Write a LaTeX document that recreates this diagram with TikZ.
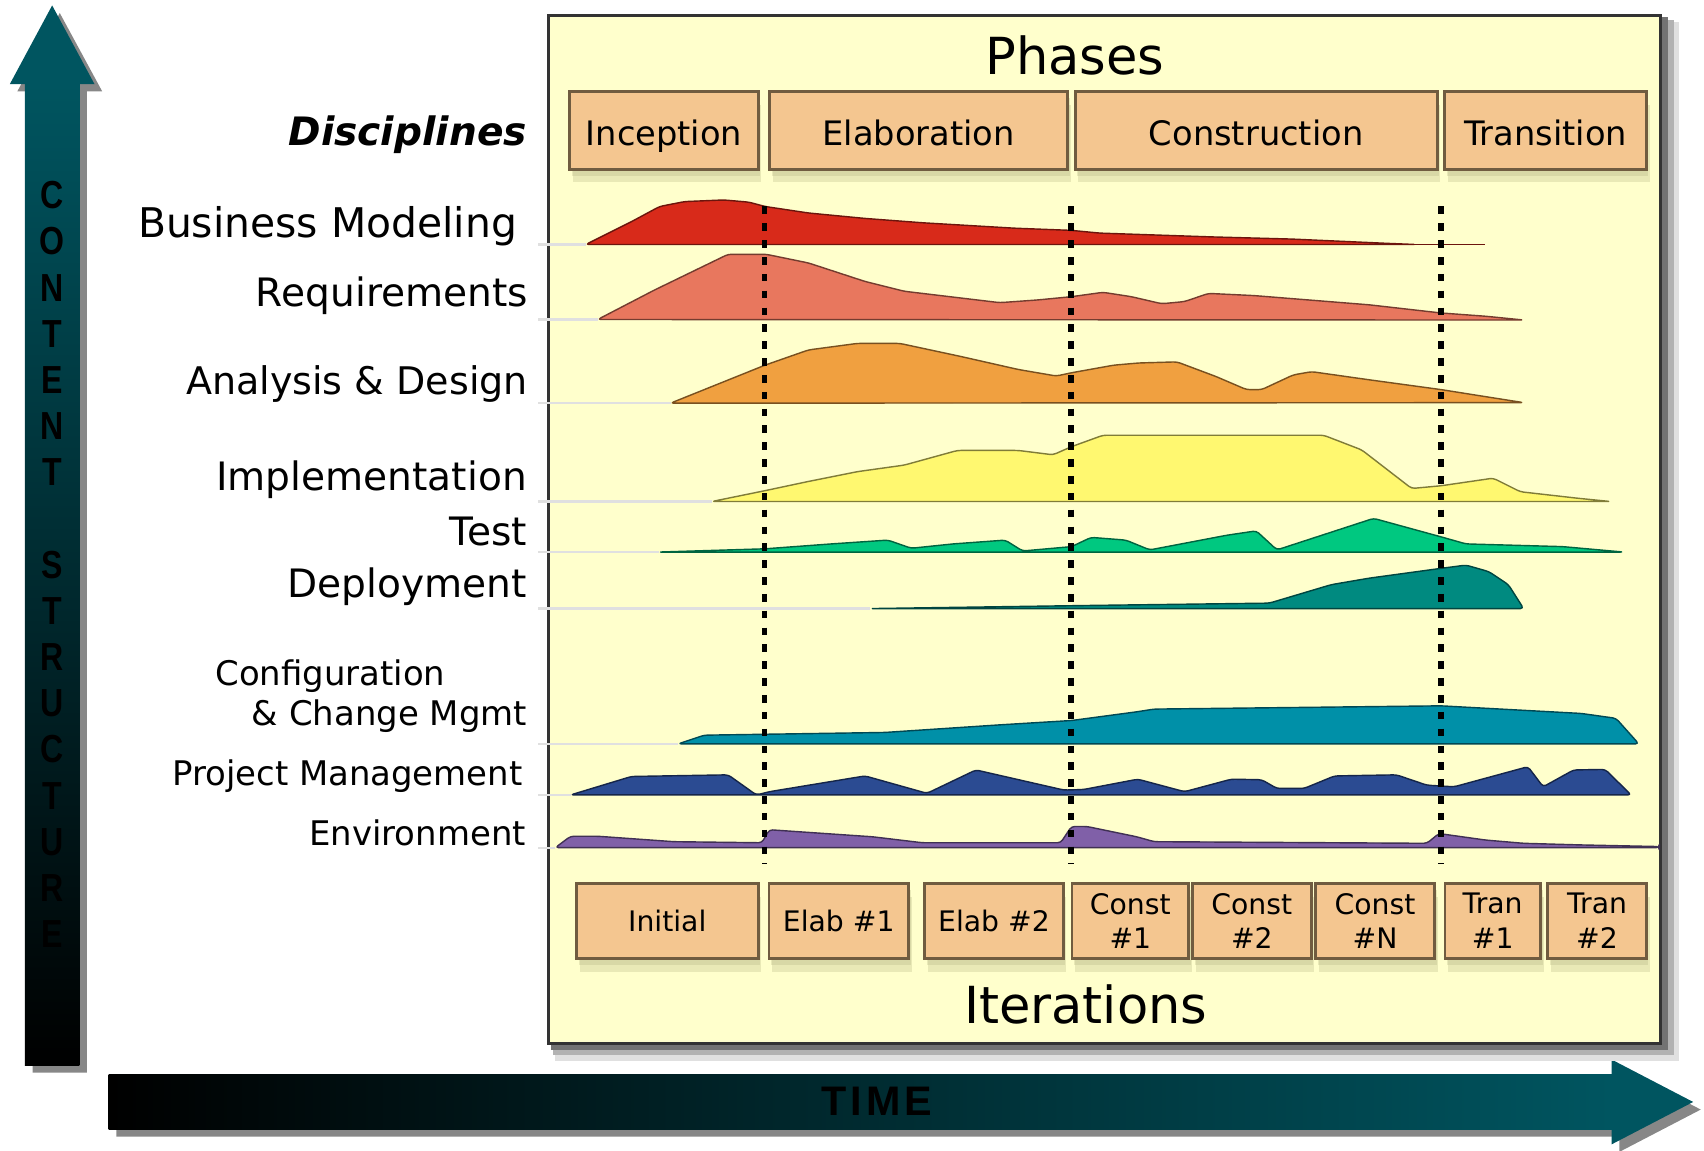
\documentclass[tikz,border=0pt]{standalone}
\usepackage{fontspec}
\setmainfont{DejaVu Sans}[ItalicFont={DejaVu Sans Oblique}, BoldFont={DejaVu Sans Bold}, BoldItalicFont={DejaVu Sans Bold Oblique}]
\newfontfamily\arrowfont{Liberation Sans}[LetterSpace=10]
\newfontfamily\stemfont{Liberation Sans}
\usepackage{tikz}
\usetikzlibrary{calc, shadows}

\definecolor{paper}{HTML}{FFFFCC}
\definecolor{peach}{HTML}{F4C690}
\definecolor{peachline}{HTML}{705C40}
\definecolor{shadowc}{HTML}{A8A878}
\definecolor{teal1}{HTML}{005560}
\definecolor{bmred}{HTML}{D82A1A}
\definecolor{reqsalmon}{HTML}{E8775E}
\definecolor{adorange}{HTML}{F0A040}
\definecolor{implyellow}{HTML}{FFF870}
\definecolor{testgreen}{HTML}{00C880}
\definecolor{depteal}{HTML}{008A80}
\definecolor{cmcyan}{HTML}{0090A8}
\definecolor{pmnavy}{HTML}{2B4B92}
\definecolor{envpurple}{HTML}{8060A8}

\tikzset{
    phase/.style={rectangle, draw=peachline, line width=2.5, fill=peach, inner sep=0pt,
        minimum height=71.5pt, text height=29pt, text depth=2pt, font=\fontsize{31}{37}\selectfont,
        general shadow={fill=shadowc, opacity=0.25, shadow xshift=2pt, shadow yshift=-6pt},
        general shadow={fill=shadowc, opacity=0.25, shadow xshift=3pt, shadow yshift=-12pt}},
    iter/.style={phase, minimum height=69pt, text height=, text depth=, align=center,
        font=\fontsize{26}{32}\selectfont},
    hump/.style={fill=#1, draw=#1!50!black, line width=1.3, rounded corners=3pt, line join=round},
    disc/.style={anchor=base east, inner sep=0pt, font=\fontsize{36}{43}\selectfont},
    discsmall/.style={disc, font=\fontsize{31.2}{38}\selectfont},
    vletter/.style={anchor=base, inner sep=0pt, font=\stemfont\bfseries\fontsize{36}{43}\selectfont},
    sepline/.style={line width=5, dash pattern=on 7pt off 8.5pt},
    faint/.style={draw=black!12, line width=2},
    arrowshadow/.style={fill=black!47},
}

\begin{document}
\begin{tikzpicture}[x=1pt, y=-1pt]
    \useasboundingbox (0,0) rectangle (1568,1059);

    % Content structure arrow (left)
    \fill[arrowshadow, shift={(7,7)}] (23,77) -- (23,980) -- (73,980) -- (73,77) -- (87,77) -- (48,5) -- (9,77) -- cycle;
    \shade[top color=teal1, middle color=teal1!60!black, bottom color=black] (23,77) rectangle (73,980);
    \fill[teal1] (9,77.5) -- (48,5) -- (87,77.5) -- cycle;
    \foreach \ch [count=\i from 0] in {C,O,N,T,E,N,T}
        \node[vletter] (cs\i) at (48,192+42.5*\i) {\scalebox{0.82}[1]{\ch}};
    \foreach \ch [count=\i from 8] in {S,T,R,U,C,T,U,R,E}
        \node[vletter] (cs\i) at (48,192+42.5*\i) {\scalebox{0.82}[1]{\ch}};

    % Time arrow (bottom)
    \fill[arrowshadow, shift={(7,7)}] (100,989) -- (1483,989) -- (1483,975) -- (1558,1014) -- (1483,1053) -- (1483,1039) -- (100,1039) -- cycle;
    \shade[left color=black, middle color=teal1!70!black, right color=teal1] (100,989) rectangle (1483.5,1039);
    \fill[teal1] (1483,975) -- (1558,1014) -- (1483,1053) -- cycle;
    \node[anchor=base, inner sep=0pt, font=\arrowfont\bfseries\fontsize{38}{46}\selectfont] (time) at (807,1026) {TIME};

    % Chart panel with its shadow
    \fill[black!12] (511,20) rectangle (1545,976);
    \fill[black!30] (509,18) rectangle (1540,971);
    \fill[black!55] (507,16) rectangle (1535,966);
    \draw[line width=3, draw=black!80, fill=paper] (505,14) rectangle (1528,960);

    \node[anchor=base, inner sep=0pt, font=\fontsize{47}{56}\selectfont] (phases) at (989,69) {Phases};
    \node[anchor=base, inner sep=0pt, font=\fontsize{47}{56}\selectfont] (iters) at (999,942) {Iterations};

    \foreach \cx/\w/\nm/\lbl in {611/173.3/ince/Inception, 845.2/274/elab/Elaboration,
                                 1155.9/333.1/cons/Construction, 1422.2/185.4/tran/Transition}
        \node[phase, minimum width=\w pt] (\nm) at (\cx,120) {\lbl};

    \foreach \cx/\w/\nm/\lbl in {614/167.3/init/Initial, 771.8/128.6/el1/{Elab \#1}, 914.6/127.5/el2/{Elab \#2},
                                 1040.1/107.2/co1/{Const\\\#1}, 1151.9/109.2/co2/{Const\\\#2}, 1265.3/109.2/coN/{Const\\\#N},
                                 1373.5/87.9/tr1/{Tran\\\#1}, 1469.5/90.8/tr2/{Tran\\\#2}}
        \node[iter, minimum width=\w pt] (\nm) at (\cx,847.5) {\lbl};

    % Disciplines
    \node[disc, font=\fontsize{36}{43}\selectfont\bfseries\itshape] (discs) at (485,134) {Disciplines};
    \node[disc, font=\fontsize{37.6}{45}\selectfont] (bm) at (476,218.6) {Business Modeling};
    \node[disc] (req) at (486,282) {Requirements};
    \node[disc, font=\fontsize{35}{42}\selectfont] (ad) at (486,363) {Analysis \& Design};
    \node[disc] (impl) at (485,451) {Implementation};
    \node[disc] (test) at (485,502.4) {Test};
    \node[disc] (dep) at (485,550) {Deployment};
    \node[discsmall, anchor=base west] (cm) at (198,631) {Configuration};
    \node[discsmall] (cmb) at (485,668) {\& Change Mgmt};
    \node[discsmall] (pm) at (481,723) {Project Management};
    \node[discsmall] (env) at (484,777.6) {Environment};

    \foreach \y/\xs in {225/539, 294/550, 371/617, 461.5/655, 508/606, 560/801, 684.5/624, 731.5/525, 780/511}
        \draw[faint] (495,\y) -- (\xs,\y);

    % Humps
    \filldraw[hump=bmred] (539,225) -- (581,204) -- (607,190) -- (630,185.5) -- (666,184) -- (689,186) -- (704,190)
        -- (744,196) -- (796,201) -- (849,205) -- (934,210) -- (986,212) -- (1012,214.5) -- (1115,218)
        -- (1189,220) -- (1278,224) -- (1303,225) -- cycle;
    \draw[draw=bmred!50!black, line width=1.5] (1300,225) -- (1366,225);
    \filldraw[hump=reqsalmon] (550,294) -- (602,267) -- (670,234) -- (705,234) -- (744,242) -- (796,259) -- (832,268)
        -- (920,278.5) -- (955,276) -- (986,273) -- (1015,269) -- (1041,273) -- (1069,279.5) -- (1090,277.5)
        -- (1112,270) -- (1154,272) -- (1260,280.5) -- (1326,288) -- (1367,291) -- (1402,294.5) -- cycle;
    \filldraw[hump=adorange] (617,371) -- (704,336) -- (744,322) -- (789,316) -- (828,316) -- (884,328) -- (937,340)
        -- (972,346) -- (986,343) -- (1025,336) -- (1048,334) -- (1083,333) -- (1119,346.5) -- (1147,358.5)
        -- (1161,358.5) -- (1190,345) -- (1207,342) -- (1260,349.5) -- (1326,358.5) -- (1367,365) -- (1402,370.5) -- cycle;
    \filldraw[hump=implyellow] (655,461.5) -- (704,451.5) -- (744,443) -- (789,434) -- (832,428) -- (881,414.5)
        -- (937,414.5) -- (969,418.5) -- (986,411) -- (1015,400.5) -- (1218,400.5) -- (1253,414) -- (1299,449.5)
        -- (1326,447) -- (1374,440) -- (1399,452.5) -- (1452,458.5) -- (1482,461.5) -- cycle;
    \filldraw[hump=testgreen] (606,508) -- (704,505) -- (765,500.5) -- (817,497) -- (838.5,504.5) -- (877,500.5)
        -- (925,497) -- (941,507) -- (986,503) -- (1004,494.5) -- (1036,497) -- (1058,506) -- (1129,492.5)
        -- (1156,488.5) -- (1175,506) -- (1264,477) -- (1326,494) -- (1349,500.5) -- (1438,503) -- (1494,508) -- cycle;
    \filldraw[hump=depteal] (801,560) -- (1012,557) -- (1168,555) -- (1225,538) -- (1260,532) -- (1326,523)
        -- (1349,520) -- (1370,526) -- (1388,538) -- (1402,560) -- cycle;
    \filldraw[hump=cmcyan] (624,684.5) -- (648,676.5) -- (814,674) -- (920,667) -- (986,663) -- (1046,655)
        -- (1062,652.5) -- (1326,649.5) -- (1455,656.5) -- (1487,661) -- (1508,684.5) -- cycle;
    \filldraw[hump=pmnavy] (525,731.5) -- (581,714.5) -- (670,713) -- (696,731.5) -- (708,728.5) -- (796,714)
        -- (853,730) -- (898,708.5) -- (979,727) -- (997,726.5) -- (1047,717) -- (1090,728.5) -- (1133,717)
        -- (1161,717.5) -- (1175,725.5) -- (1200,725.5) -- (1228,714) -- (1285,713) -- (1313,722.5) -- (1338,724)
        -- (1406,705.5) -- (1420,724) -- (1448,708.5) -- (1477,708) -- (1501,731.5) -- cycle;
    \filldraw[hump=envpurple] (511,780) -- (525,769.5) -- (550,769.5) -- (620,774.5) -- (701,775.5) -- (708,763.5)
        -- (803,770) -- (849,775.5) -- (976,775.5) -- (986,760.5) -- (1000,760.5) -- (1046,770) -- (1062,774.5)
        -- (1313,776) -- (1324,767) -- (1367,773) -- (1402,776) -- (1455,777.5) -- (1527,779) -- (1527,780) -- cycle;

    % Phase borders
    \foreach \x in {703.5,985.5,1326}
        \draw[sepline] (\x,190) -- (\x,795);
\end{tikzpicture}
\end{document}
